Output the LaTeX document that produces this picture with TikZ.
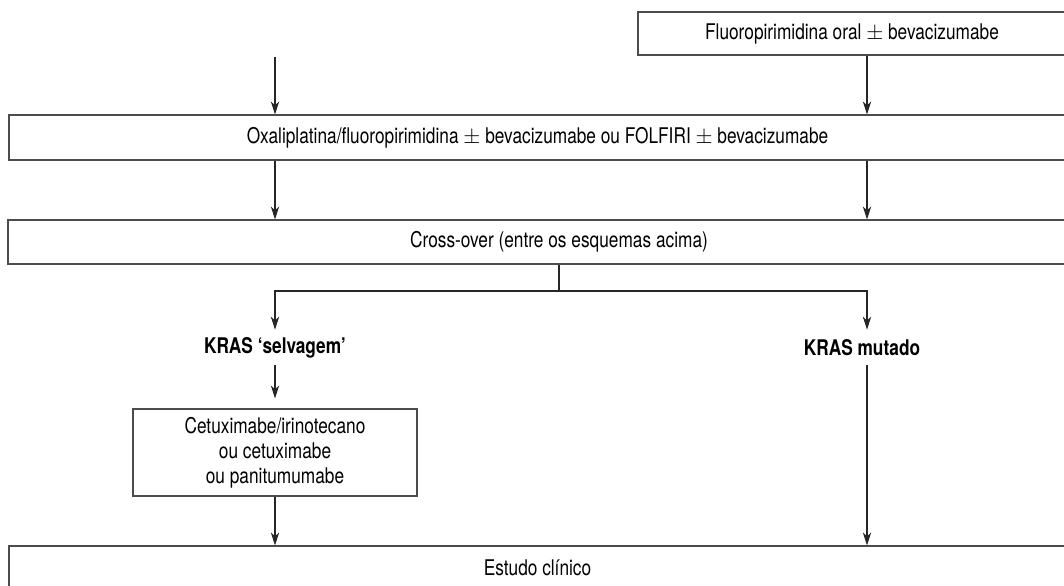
\documentclass[tikz,border=0pt]{standalone}
\usepackage{fontspec}
\setmainfont{TeX Gyre Heros}[FakeStretch=0.8]
\usetikzlibrary{arrows.meta}

\begin{document}
\begin{tikzpicture}[x=0.5pt,y=-0.5pt,
  box/.style={draw=black!70,line width=0.6pt,inner sep=0pt,align=center},
  lbl/.style={inner sep=0pt,minimum height=17.5pt},
  arr/.style={draw=black!85,line width=0.55pt,-{Stealth[length=6.5pt,width=4.2pt,inset=2pt]}},
  every node/.append style={font=\fontsize{10.8}{12.5}\selectfont}]

\useasboundingbox (0,0) rectangle (1064,585);

\coordinate (colL) at (275,0);
\coordinate (colR) at (867,0);
\coordinate (entry) at (275,57);
\coordinate (split) at (559,291);

\node[box,minimum width=214pt,minimum height=21.5pt] (fluoro) at (852,33.5) {Fluoropirimidina oral $\pm$ bevacizumabe};
\node[box,minimum width=528.5pt,minimum height=22.5pt] (oxali) at (537.5,137.5)
  {Oxaliplatina/fluoropirimidina $\pm$ bevacizumabe ou FOLFIRI $\pm$ bevacizumabe};
\node[box,minimum width=551pt,minimum height=22pt] (cross) at (559,242) {Cross-over (entre os esquemas acima)};
\node[lbl,font=\fontsize{10.8}{12.5}\selectfont\bfseries] (kwild) at (275,347.5) {KRAS ‘selvagem’};
\node[lbl,font=\fontsize{10.8}{12.5}\selectfont\bfseries] (kmut) at (862,347.5) {KRAS mutado};
\node[box,minimum width=142pt,minimum height=43.5pt] (cetux) at (275,452.5)
  {Cetuximabe/irinotecano\\ou cetuximabe\\ou panitumumabe};
\node[box,minimum width=528.5pt,minimum height=22pt] (estudo) at (537.5,568) {Estudo clínico};

% entradas
\draw[arr] (entry) -- (oxali.north -| entry);
\draw[arr] (fluoro.south -| colR) -- (oxali.north -| colR);

% primeira e segunda linha
\draw[arr] (oxali.south -| colL) -- (cross.north -| colL);
\draw[arr] (oxali.south -| colR) -- (cross.north -| colR);

% KRAS
\draw[draw=black!85,line width=0.55pt] (cross.south -| split) -- (split);
\draw[arr] (split) -| (kwild.north);
\draw[arr] (split) -| (kmut.north -| colR);

\draw[arr,shorten >=5pt] (kwild.south) -- (cetux.north);
\draw[arr] (cetux.south) -- (estudo.north -| cetux);
\draw[arr] (kmut.south -| colR) -- (estudo.north -| colR);

\end{tikzpicture}
\end{document}
